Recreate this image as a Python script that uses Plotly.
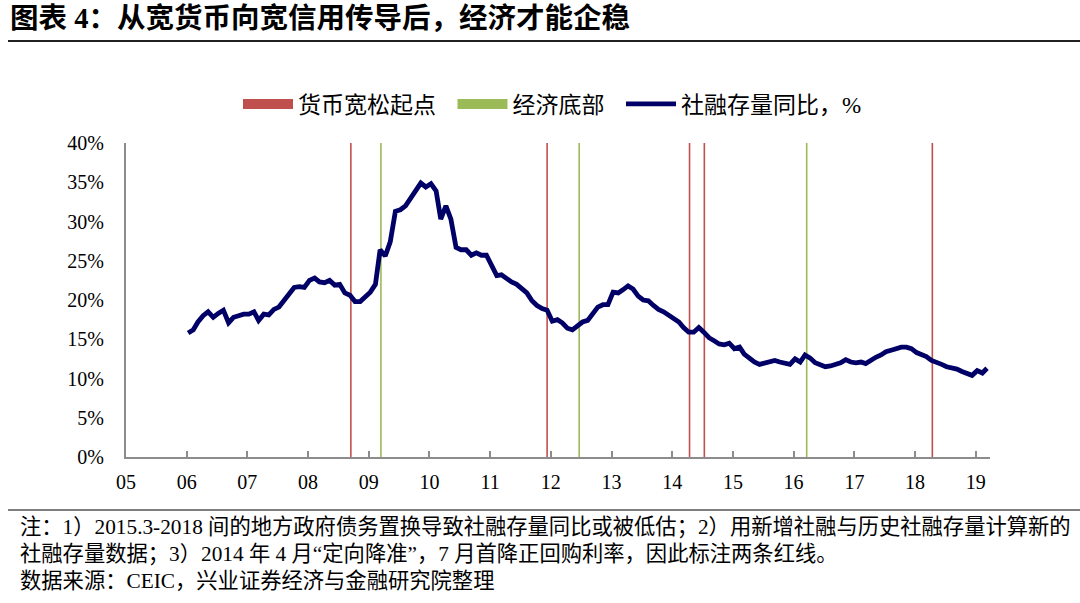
import pandas as pd
import plotly.graph_objects as go

# ---------------- data ----------------
start_month = "2006-01-01"
tsf_yoy = [
    15.8, 16.2, 17.2, 18.0, 18.5, 17.8, 18.3, 18.7, 17.1, 17.8, 18.0, 18.2,   # 2006
    18.2, 18.5, 17.4, 18.2, 18.1, 18.8, 19.1, 20.0, 20.7, 21.6, 21.7, 21.6,   # 2007
    22.5, 22.8, 22.3, 22.2, 22.5, 21.9, 22.0, 20.9, 20.6, 19.8, 19.8, 20.5,   # 2008
    21.0, 22.0, 26.4, 25.6, 27.4, 31.3, 31.5, 32.0, 33.0, 34.1, 34.9, 34.4,   # 2009
    34.8, 33.9, 30.3, 32.0, 30.3, 26.7, 26.4, 26.4, 25.7, 26.0, 25.7, 25.7,   # 2010
    24.5, 23.1, 23.2, 22.7, 22.3, 22.0, 21.4, 20.9, 19.9, 19.3, 18.9, 18.7,   # 2011
    17.3, 17.5, 17.1, 16.4, 16.2, 16.7, 17.2, 17.4, 18.3, 19.1, 19.4, 19.4,   # 2012
    21.0, 20.9, 21.3, 21.8, 21.4, 20.5, 20.0, 19.9, 19.3, 18.8, 18.5, 18.1,   # 2013
    17.7, 17.2, 16.5, 15.9, 15.9, 16.5, 15.9, 15.2, 14.8, 14.4, 14.3, 14.5,   # 2014
    13.8, 14.0, 13.1, 12.5, 12.1, 11.8, 12.0, 12.1, 12.3, 12.1, 11.9, 11.8,   # 2015
    12.5, 12.1, 13.0, 12.6, 12.0, 11.7, 11.5, 11.6, 11.8, 12.0, 12.4, 12.1,   # 2016
    12.0, 12.1, 11.9, 12.4, 12.7, 13.0, 13.4, 13.6, 13.8, 14.0, 14.0, 13.8,   # 2017
    13.3, 13.0, 12.8, 12.3, 12.1, 11.8, 11.5, 11.4, 11.2, 10.9, 10.6, 10.4,   # 2018
    11.0, 10.7, 11.3,                                                         # 2019
]
easing_dates = ["2008-09-15", "2011-12-10", "2014-04-15", "2014-07-13", "2018-04-15"]
bottom_dates = ["2009-03-15", "2012-06-20", "2016-03-20"]

series_names = ["货币宽松起点", "经济底部", "社融存量同比，%"]
title_text = "图表 4：从宽货币向宽信用传导后，经济才能企稳"
note_lines = [
    "注：1）2015.3-2018 间的地方政府债务置换导致社融存量同比或被低估；2）用新增社融与历史社融存量计算新的",
    "社融存量数据；3）2014 年 4 月“定向降准”，7 月首降正回购利率，因此标注两条红线。",
    "数据来源：CEIC，兴业证券经济与金融研究院整理",
]

y_range = [0, 40]
x_range = ["2005-01-01", "2019-03-28"]

# ---------------- style ----------------
RED = "#C0504D"
GREEN = "#9BBB59"
NAVY = "#000066"
AXIS = "#8C8C8C"
FONT = "Liberation Serif, Noto Sans CJK SC, serif"
CJK = "Liberation Serif, Noto Sans CJK SC"
PAD = "\u00a0" * 2

dates = pd.date_range(start_month, periods=len(tsf_yoy), freq="MS") + pd.Timedelta(days=9)

def vline_xy(ds):
    xs, ys = [], []
    for d in ds:
        xs += [d, d, None]
        ys += [y_range[0], y_range[1], None]
    return xs, ys

fig = go.Figure()
for ds, col in [(easing_dates, RED), (bottom_dates, GREEN)]:
    xs, ys = vline_xy(ds)
    fig.add_trace(go.Scatter(x=xs, y=ys, mode="lines", line=dict(color=col, width=1.6),
                             showlegend=False, hoverinfo="skip"))

# legend-only swatches
for name, col in [(series_names[0], RED), (series_names[1], GREEN)]:
    fig.add_trace(go.Scatter(x=[None], y=[None], mode="lines", name=name + PAD,
                             line=dict(color=col, width=12)))

fig.add_trace(go.Scatter(x=dates, y=tsf_yoy, mode="lines", name=series_names[2],
                         line=dict(color=NAVY, width=4.8)))

L, R, T, B = 126, 90, 143, 146
W, H = 1080 - L - R, 603 - T - B

def px(x):
    return (x - L) / W

def py(y):
    return (603 - B - y) / H

fig.update_layout(
    width=1080, height=603,
    margin=dict(l=L, r=R, t=T, b=B),
    paper_bgcolor="white", plot_bgcolor="white",
    font=dict(family=FONT, size=20, color="black"),
    showlegend=True,
    legend=dict(orientation="h", x=px(238), y=py(104), xanchor="left", yanchor="middle",
                font=dict(family=CJK, size=23), itemwidth=50, traceorder="normal",
                bgcolor="rgba(0,0,0,0)"),
    xaxis=dict(type="date", range=x_range, dtick="M12", tick0="2005-01-01", tickformat="%y",
               showgrid=False, showline=True, linecolor=AXIS, linewidth=2,
               ticks="inside", ticklen=6, tickwidth=2, tickcolor=AXIS,
               tickfont=dict(family=FONT, size=20), ticklabelstandoff=6, zeroline=False),
    yaxis=dict(range=y_range, dtick=5, ticksuffix="%", showgrid=False, showline=True,
               linecolor=AXIS, linewidth=2, ticks="", zeroline=False,
               tickfont=dict(family=FONT, size=20), ticklabelstandoff=16),
)

# title and rules
fig.add_annotation(text="<b>" + title_text + "</b>", xref="paper", yref="paper",
                   x=px(8), y=py(18), xanchor="left", yanchor="middle", showarrow=False,
                   font=dict(family=CJK, size=28.5, color="black"))
fig.add_shape(type="line", xref="paper", yref="paper", x0=px(8), x1=px(1080),
              y0=py(41), y1=py(41), line=dict(color="#222222", width=2))
fig.add_shape(type="line", xref="paper", yref="paper", x0=px(8), x1=px(1080),
              y0=py(510), y1=py(510), line=dict(color="#555555", width=1.5))

for i, line in enumerate(note_lines):
    fig.add_annotation(text=line, xref="paper", yref="paper", x=px(18), y=py(527 + 27 * i),
                       xanchor="left", yanchor="middle", showarrow=False,
                       font=dict(family=CJK, size=21.3, color="black"))

fig.write_html("out.html")
